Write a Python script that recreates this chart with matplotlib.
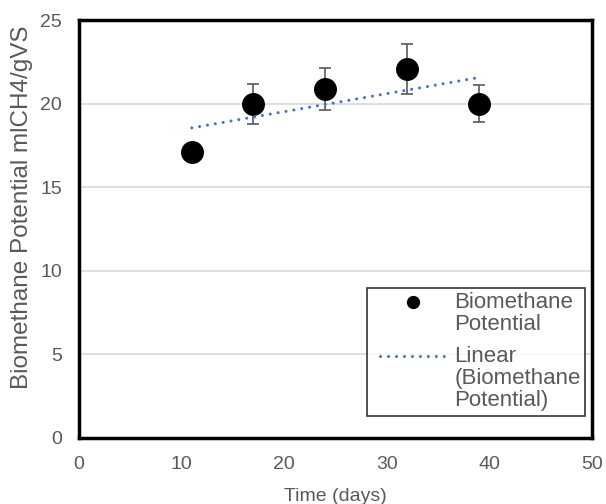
import numpy as np
import matplotlib.pyplot as plt
from matplotlib.legend_handler import HandlerLine2D

plt.rcParams['font.family'] = ['Liberation Sans', 'DejaVu Sans']

days = [11, 17, 24, 32, 39]
bmp = [17.1, 20.0, 20.9, 22.1, 20.0]
err = [0.2, 1.2, 1.25, 1.5, 1.1]

grey = '#595959'


class RaisedHandler(HandlerLine2D):
    # puts the legend handle level with the first line of a wrapped label
    def __init__(self, dy, **kw):
        super().__init__(**kw)
        self.dy = dy

    def create_artists(self, legend, orig_handle, xdescent, ydescent, width,
                       height, fontsize, trans):
        arts = super().create_artists(legend, orig_handle, xdescent, ydescent,
                                      width, height, fontsize, trans)
        for a in arts:
            a.set_ydata(np.asarray(a.get_ydata()) + self.dy * fontsize)
        return arts


fig = plt.figure(figsize=(6.06, 5.04), dpi=100)
ax = fig.add_axes([0.130, 0.131, 0.847, 0.829])

ax.errorbar(days, bmp, yerr=err, fmt='none', ecolor=grey, elinewidth=1.2,
            capsize=4, capthick=1.2, zorder=2)
pts, = ax.plot(days, bmp, 'o', color='black', markersize=15.5, zorder=3,
               label='Biomethane\nPotential')

# linear trendline
k, b = np.polyfit(days, bmp, 1)
xt = np.array([min(days), max(days)])
trend, = ax.plot(xt, k * xt + b, linestyle=(0, (0.01, 2.6)), dash_capstyle='round',
                 color='#4472C4', linewidth=2.2, zorder=4,
                 label='Linear\n(Biomethane\nPotential)')

ax.set_xlim(0, 50)
ax.set_ylim(0, 25)
ax.set_xticks(range(0, 51, 10))
ax.set_yticks(range(0, 26, 5))
ax.tick_params(length=0, labelsize=14, labelcolor=grey)
ax.tick_params(axis='x', pad=13)
ax.tick_params(axis='y', pad=12)
ax.yaxis.grid(True, color='#d9d9d9', linewidth=1.2)
ax.set_axisbelow(True)
for s in ax.spines.values():
    s.set_linewidth(2.5)
    s.set_color('black')

ax.set_xlabel('Time (days)', fontsize=14, color=grey, labelpad=11)
ax.set_ylabel('Biomethane Potential mlCH4/gVS', fontsize=17.5, color=grey)
ax.yaxis.set_label_coords(-0.09, 0.553)

fs = 16
leg = ax.legend(loc='upper left', bbox_to_anchor=(0.561, 0.359), fontsize=fs,
                frameon=True, fancybox=False, handlelength=3.4, handletextpad=0.35,
                labelspacing=0.5, borderpad=0.2, borderaxespad=0, labelcolor=grey,
                markerscale=0.55,
                handler_map={pts: RaisedHandler(0.53, xpad=0.39),
                             trend: RaisedHandler(1.06, xpad=0.39)})
leg.get_frame().set_edgecolor('black')
leg.get_frame().set_linewidth(1.2)
for t in leg.get_texts():
    t.set_linespacing(1.06)

plt.savefig('out.png', dpi=100)
